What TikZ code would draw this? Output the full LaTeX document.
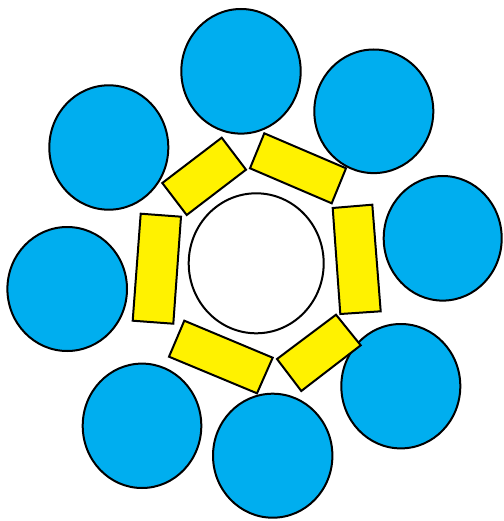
\documentclass[tikz,border=0pt]{standalone}
\definecolor{cblue}{RGB}{0,174,239}
\definecolor{cyel}{RGB}{255,242,0}
\begin{document}
\begin{tikzpicture}[x=1pt,y=-1pt,
  bluedisc/.style={fill=cblue,draw=black,line width=2pt},
  yelbar/.style={fill=cyel,draw=black,line width=2pt,line join=miter},
  hub/.style={fill=white,draw=black,line width=2pt}]
\useasboundingbox (0,0) rectangle (503,521);
% blue discs
\draw[bluedisc] (241,71.3) ellipse [x radius=59.7,y radius=62.3];
\draw[bluedisc] (373.8,111.3) ellipse [x radius=59.5,y radius=61.8];
\draw[bluedisc] (442.7,238.3) ellipse [x radius=59,y radius=62.3];
\draw[bluedisc] (400.8,386.2) ellipse [x radius=59.5,y radius=62.2];
\draw[bluedisc] (272.7,455.7) ellipse [x radius=59.7,y radius=62];
\draw[bluedisc] (142,425.8) ellipse [x radius=59.3,y radius=62.2];
\draw[bluedisc] (67.2,289) ellipse [x radius=59.8,y radius=62];
\draw[bluedisc] (108.8,147.5) ellipse [x radius=59.5,y radius=62.2];
% centre
\draw[hub] (256.2,263.3) ellipse [x radius=67.5,y radius=70];
% yellow bars
\draw[yelbar] (162.3,183) -- (221.7,137.7) -- (246,169.7) -- (186.7,215) -- cycle;
\draw[yelbar] (264.3,133.3) -- (346,168.3) -- (331.7,203.3) -- (250,168.3) -- cycle;
\draw[yelbar] (332.7,208) -- (372.3,204.7) -- (380.7,311.3) -- (340.3,314) -- cycle;
\draw[yelbar] (277,359) -- (336,314.7) -- (360.7,345.3) -- (301.3,391) -- cycle;
\draw[yelbar] (184.3,320.7) -- (272.7,357.7) -- (257,393.3) -- (169,356.7) -- cycle;
\draw[yelbar] (140.7,213.7) -- (181,216.7) -- (173.3,323.7) -- (132.7,320.7) -- cycle;
\end{tikzpicture}
\end{document}
